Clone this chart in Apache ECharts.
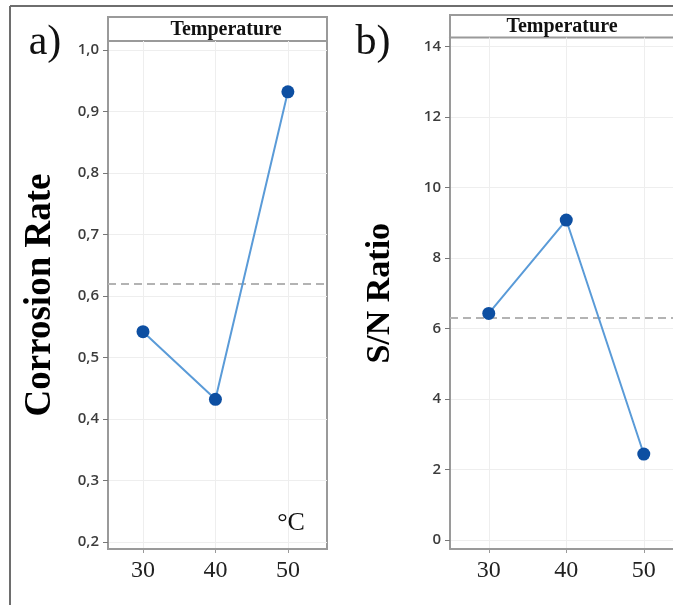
<!DOCTYPE html>
<html>
<head>
<meta charset="utf-8">
<script src="https://cdn.jsdelivr.net/npm/echarts@6/dist/echarts.min.js"></script>
<style>
  html, body { margin: 0; padding: 0; background: #fff; }
  #chart { width: 673px; height: 605px; }
</style>
</head>
<body>
<div id="chart"></div>
<script>
// 温度水平
const temps = [30, 40, 50];
const tempTicks = [30, 40, 50];

// a) 腐蚀速率
const corrosionRate = [0.542, 0.432, 0.932];
const corrosionMean = 0.616;
const corrosionTicks = [0.2, 0.3, 0.4, 0.5, 0.6, 0.7, 0.8, 0.9, 1.0];

// b) 信噪比
const snRatio = [6.43, 9.08, 2.44];
const snMean = 6.31;
const snTicks = [0, 2, 4, 6, 8, 10, 12, 14];

const serif = '"Liberation Serif", "Times New Roman", serif';
const sans = '"Open Sans", "Noto Sans", sans-serif';
const frameColor = '#9a9a9a';

const chart = echarts.init(document.getElementById('chart'));

const makeXAxis = (gridIndex, min, max) => ({
    type: 'value', gridIndex, min, max,
    axisLine: { show: true, onZero: false, lineStyle: { color: frameColor, width: 2 } },
    axisTick: { show: true, customValues: tempTicks, length: 4, lineStyle: { color: frameColor } },
    axisLabel: { customValues: tempTicks, fontFamily: serif, fontSize: 24, color: '#222', margin: 10 },
    splitLine: { show: true, lineStyle: { color: '#eeeeee', width: 1 } }
});

const makeYAxis = (gridIndex, min, max, ticks, name, gap, size, fmt) => ({
    type: 'value', gridIndex, min, max,
    name, nameLocation: 'middle', nameRotate: 90, nameGap: gap,
    nameTextStyle: { fontFamily: serif, fontWeight: 'bold', fontSize: size, color: '#000' },
    axisLine: { show: true, onZero: false, lineStyle: { color: frameColor, width: 2 } },
    axisTick: { show: true, customValues: ticks, length: 5, lineStyle: { color: '#777' } },
    axisLabel: { customValues: ticks, formatter: fmt, fontFamily: sans, fontSize: 15, fontWeight: 600, color: '#3c3c3c', margin: 9 },
    splitLine: { show: true, lineStyle: { color: '#eeeeee', width: 1 } }
});

const makeSeries = (idx, values, mean) => ({
    type: 'line',
    xAxisIndex: idx, yAxisIndex: idx,
    data: temps.map((t, i) => [t, values[i]]),
    symbol: 'circle', symbolSize: 13,
    itemStyle: { color: '#0d4fa2' },
    lineStyle: { color: '#5a9bd8', width: 2 },
    markLine: {
        silent: true, symbol: 'none', label: { show: false },
        lineStyle: { color: '#b3b3b3', type: [8, 5], width: 2 },
        data: [{ yAxis: mean }]
    },
    z: 5
});

chart.setOption({
    animation: false,
    grid: [
        { left: 108, top: 41, width: 219, height: 508, show: true, borderColor: frameColor, borderWidth: 2, backgroundColor: '#fff' },
        // b 图右侧超出画面，不画边框
        { left: 450, top: 37.5, right: 0, height: 511.5, show: false }
    ],
    xAxis: [makeXAxis(0, 25.17, 55.4), makeXAxis(1, 25, 53.77)],
    yAxis: [
        makeYAxis(0, 0.1886, 1.0146, corrosionTicks, 'Corrosion Rate', 49, 37, v => v.toFixed(1).replace('.', ',')),
        makeYAxis(1, -0.255, 14.26, snTicks, 'S/N Ratio', 53, 34, v => String(Math.round(v)))
    ],
    series: [makeSeries(0, corrosionRate, corrosionMean), makeSeries(1, snRatio, snMean)],
    graphic: [
        // 外框
        { type: 'line', shape: { x1: 10, y1: 6, x2: 673, y2: 6 }, style: { stroke: '#6e6e6e', lineWidth: 2 } },
        { type: 'line', shape: { x1: 10, y1: 6, x2: 10, y2: 605 }, style: { stroke: '#6e6e6e', lineWidth: 2 } },
        // 标题栏
        { type: 'rect', shape: { x: 108, y: 17, width: 219, height: 24 }, style: { fill: '#fff', stroke: frameColor, lineWidth: 2 } },
        { type: 'text', x: 226, y: 29.5, style: { text: 'Temperature', font: 'bold 20px ' + serif, fill: '#111', align: 'center', verticalAlign: 'middle' } },
        { type: 'rect', shape: { x: 450, y: 15, width: 240, height: 22.5 }, style: { fill: '#fff', stroke: frameColor, lineWidth: 2 } },
        { type: 'text', x: 562, y: 26.5, style: { text: 'Temperature', font: 'bold 20px ' + serif, fill: '#111', align: 'center', verticalAlign: 'middle' } },
        // 面板标记
        { type: 'text', x: 45, y: 43, style: { text: 'a)', font: '42px ' + serif, fill: '#111', align: 'center', verticalAlign: 'middle' } },
        { type: 'text', x: 373, y: 43, style: { text: 'b)', font: '42px ' + serif, fill: '#111', align: 'center', verticalAlign: 'middle' } },
        { type: 'text', x: 291, y: 523, style: { text: '°C', font: '26px ' + serif, fill: '#111', align: 'center', verticalAlign: 'middle' }, z: 10 }
    ]
});
</script>
</body>
</html>
